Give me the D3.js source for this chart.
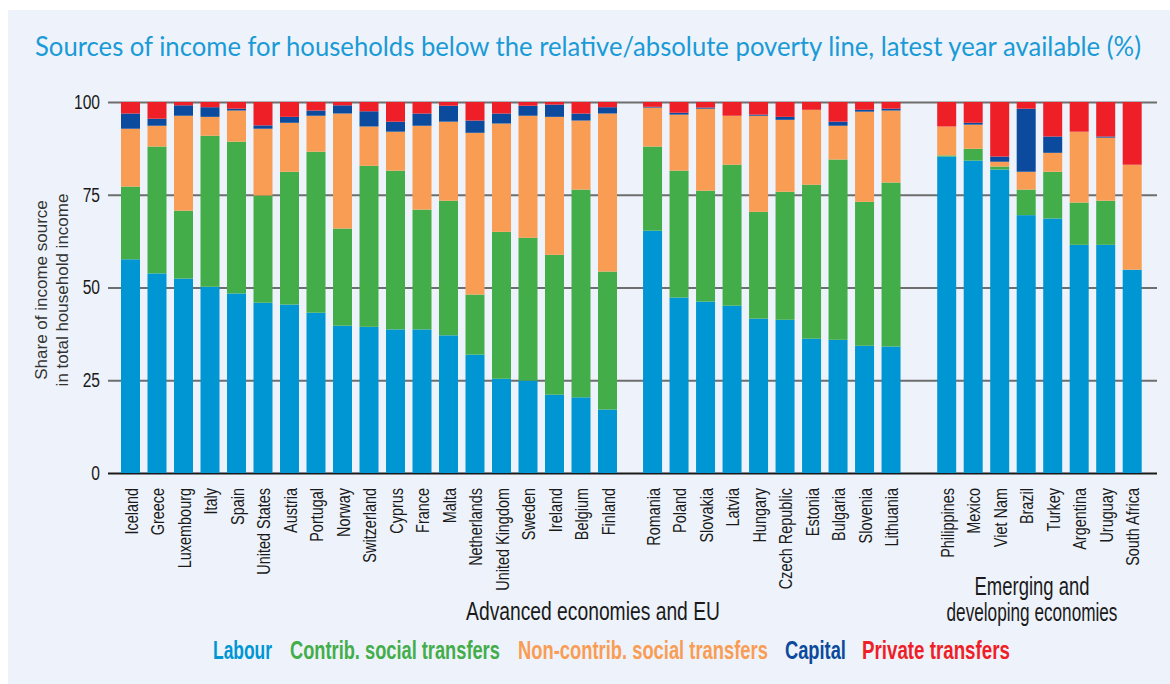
<!DOCTYPE html>
<html>
<head>
<meta charset="utf-8">
<script src="https://cdn.jsdelivr.net/npm/d3@7"></script>
<style>
  html, body { margin: 0; padding: 0; background: #fff; }
  svg { display: block; }
  .narrow { font-family: "Liberation Sans", Arial, sans-serif; }
</style>
</head>
<body>
<div id="chart"></div>
<script>
const advanced = ["Iceland", "Greece", "Luxembourg", "Italy", "Spain", "United States", "Austria", "Portugal",
  "Norway", "Switzerland", "Cyprus", "France", "Malta", "Netherlands", "United Kingdom", "Sweden",
  "Ireland", "Belgium", "Finland"];
const eu = ["Romania", "Poland", "Slovakia", "Latvia", "Hungary", "Czech Republic", "Estonia", "Bulgaria",
  "Slovenia", "Lithuania"];
const emerging = ["Philippines", "Mexico", "Viet Nam", "Brazil", "Turkey", "Argentina", "Uruguay", "South Africa"];

const labour = [57.6, 53.8, 52.4, 50.2, 48.4, 45.9, 45.4, 43.2, 39.7, 39.4, 38.7, 38.7, 37.1, 31.9, 25.4, 24.9, 21.1, 20.4, 17.1,
  65.3, 47.3, 46.2, 45.1, 41.6, 41.3, 36.2, 35.9, 34.3, 34.1,
  85.3, 84.2, 81.8, 69.5, 68.6, 61.5, 61.5, 54.8];
const contrib = [19.6, 34.2, 18.3, 40.7, 40.9, 28.9, 35.8, 43.4, 26.2, 43.4, 42.8, 32.3, 36.3, 16.2, 39.6, 38.5, 37.7, 56.0, 37.2,
  22.7, 34.2, 29.9, 38.0, 28.8, 34.5, 41.5, 48.6, 38.8, 44.2,
  0.3, 3.2, 0.8, 6.9, 12.6, 11.4, 11.9, 0];
const noncontrib = [15.6, 5.6, 25.6, 5.1, 8.4, 18.0, 13.2, 9.7, 31.0, 10.6, 10.5, 22.6, 21.3, 43.6, 29.2, 32.9, 37.2, 18.6, 42.6,
  10.5, 15.1, 22.1, 13.2, 25.9, 19.4, 20.2, 9.1, 24.3, 19.4,
  7.8, 6.5, 1.3, 4.8, 5.1, 19.1, 17.0, 28.3];
const capital = [4.1, 1.9, 2.8, 2.6, 0.5, 0.9, 1.6, 1.4, 2.2, 4.1, 2.7, 3.3, 4.3, 3.3, 2.7, 2.7, 3.3, 1.9, 1.7,
  0.2, 0.5, 0.3, 0, 0.3, 0.8, 0, 1.1, 0.5, 0.5,
  0, 0.5, 1.4, 17.0, 4.4, 0, 0.3, 0];
const privateTr = [3.1, 4.5, 0.9, 1.4, 1.8, 6.3, 4.0, 2.3, 0.9, 2.5, 5.3, 3.1, 1.0, 5.0, 3.1, 1.0, 0.7, 3.1, 1.4,
  1.3, 2.9, 1.5, 3.7, 3.4, 4.0, 2.1, 5.3, 2.1, 1.8,
  6.6, 5.6, 14.7, 1.8, 9.3, 8.0, 9.3, 16.9];

const seriesKeys = ["labour", "contrib", "noncontrib", "capital", "private"];
const seriesNames = ["Labour", "Contrib. social transfers", "Non-contrib. social transfers", "Capital", "Private transfers"];
const colors = ["#0096d4", "#43ad4a", "#f99d55", "#0b4a9c", "#ee1f27"];
const yTicks = [0, 25, 50, 75, 100];

// extra space (in bar steps) before each group
const groupGap = [0, 0.7, 1.1];

const groups = [advanced, eu, emerging];
const rows = [];
let slot = 0;
groups.forEach((g, gi) => {
  slot += groupGap[gi];
  g.forEach(name => {
    const i = rows.length;
    rows.push({
      name: name, slot: slot,
      labour: labour[i], contrib: contrib[i], noncontrib: noncontrib[i],
      capital: capital[i], private: privateTr[i]
    });
    slot += 1;
  });
});

// no condensed face installed: squeeze normal text horizontally
const condense = (sel, k) => sel.each(function() {
  const len = this.getComputedTextLength();
  d3.select(this).attr("textLength", len * k).attr("lengthAdjust", "spacingAndGlyphs");
});
// squeeze to a given width with a transform (x, y, width from data index)
const squeeze = (sel, xs, ys, ws) => sel.each(function(d, i) {
  const len = this.getComputedTextLength();
  d3.select(this).attr("transform", `translate(${xs[i]},${ys[i]}) scale(${ws[i] / len},1)`);
});

const W = 1170, H = 684;
const svg = d3.select("#chart").append("svg")
  .attr("width", W).attr("height", H);

svg.append("rect")
  .attr("x", 8).attr("y", 10)
  .attr("width", W - 8).attr("height", H - 10)
  .attr("fill", "#eef3fb");

svg.append("text")
  .attr("x", 35).attr("y", 56)
  .attr("textLength", 1106)
  .attr("lengthAdjust", "spacingAndGlyphs")
  .style("font-family", "Lato, 'Open Sans', sans-serif")
  .style("font-size", "26px")
  .attr("fill", "#1a9ad6")
  .text("Sources of income for households below the relative/absolute poverty line, latest year available (%)");

const step = 26.5, barW = 19;
const xScale = d3.scaleLinear().domain([0, 1]).range([121, 121 + step]);
const yScale = d3.scaleLinear().domain([0, 100]).range([473, 102]);

const axisLeft = 108, axisRight = 1157;

const gY = svg.append("g")
  .attr("transform", `translate(${axisLeft},0)`)
  .call(d3.axisLeft(yScale).tickValues(yTicks).tickSize(-(axisRight - axisLeft)).tickPadding(8));
gY.select(".domain").remove();
gY.selectAll(".tick line")
  .attr("stroke", d => d === 0 ? "#1a1a1a" : "#6e6e6e")
  .attr("stroke-width", 2);
gY.selectAll(".tick text")
  .attr("class", "narrow")
  .attr("fill", "#1a1a1a")
  .style("font-size", "20px")
  .call(condense, 0.78);

const stack = d3.stack().keys(seriesKeys);
const stacked = stack(rows);

svg.append("g")
  .selectAll("g")
  .data(stacked)
  .join("g")
    .attr("fill", (d, i) => colors[i])
  .selectAll("rect")
  .data(d => d)
  .join("rect")
    .attr("x", d => xScale(d.data.slot))
    .attr("width", barW)
    .attr("y", d => yScale(d[1]))
    .attr("height", d => yScale(d[0]) - yScale(d[1]));

// country labels
svg.append("g")
  .selectAll("text")
  .data(rows)
  .join("text")
    .attr("class", "narrow")
    .attr("transform", d => `translate(${xScale(d.slot) + barW / 2 + 7},488) rotate(-90)`)
    .attr("text-anchor", "end")
    .attr("fill", "#1a1a1a")
    .style("font-size", "19px")
    .text(d => d.name)
    .call(condense, 0.76);

// y axis title
svg.append("text")
  .attr("transform", "translate(47,290) rotate(-90)")
  .attr("text-anchor", "middle")
  .style("font-family", "'Liberation Sans', Arial, sans-serif")
  .style("font-size", "17px")
  .attr("fill", "#333")
  .selectAll("tspan")
  .data(["Share of income source", "in total household income"])
  .join("tspan")
    .attr("x", 0)
    .attr("dy", (d, i) => i ? 21 : 0)
    .text(d => d);

// group labels
const groupLabels = ["Advanced economies and EU", "Emerging and", "developing economies"];
const groupLabelX = [593, 1032, 1032];
const groupLabelY = [620, 595, 621];
const groupLabelW = [254, 115, 171];
svg.append("g")
  .selectAll("text")
  .data(groupLabels)
  .join("text")
    .attr("class", "narrow")
    .attr("text-anchor", "middle")
    .attr("fill", "#1a1a1a")
    .style("font-size", "25px")
    .text(d => d)
    .call(squeeze, groupLabelX, groupLabelY, groupLabelW);

// legend
const legendX = [213, 290, 518, 785, 862];
const legendY = [659, 659, 659, 659, 659];
const legendW = [59, 210, 250, 61, 148];
svg.append("g")
  .selectAll("text")
  .data(seriesNames)
  .join("text")
    .attr("class", "narrow")
    .attr("fill", (d, i) => colors[i])
    .style("font-size", "25px")
    .style("font-weight", "bold")
    .text(d => d)
    .call(squeeze, legendX, legendY, legendW);
</script>
</body>
</html>
